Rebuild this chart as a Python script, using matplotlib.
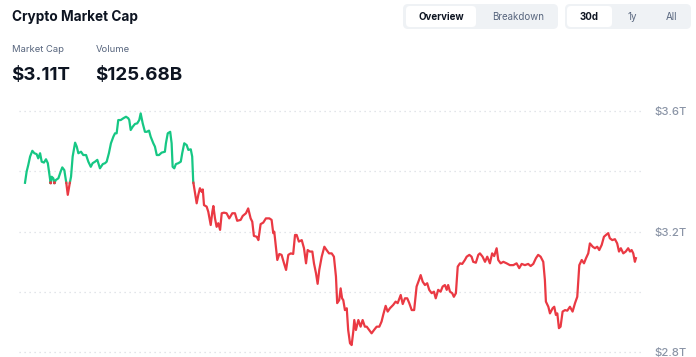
import numpy as np
import matplotlib
matplotlib.use("Agg")
import matplotlib.pyplot as plt
from matplotlib.patches import FancyBboxPatch

plt.rcParams['font.family'] = ['Inter', 'DejaVu Sans']

# market cap in trillions of USD, time in days over the 30d window
days = [0.00, 0.08, 0.16, 0.25, 0.36, 0.46, 0.57, 0.65, 0.74, 0.82, 0.93, 1.03, 1.12, 1.18, 1.26, 1.31,
        1.39, 1.44, 1.51, 1.64, 1.75, 1.83, 1.93, 2.01, 2.10, 2.18, 2.26, 2.34, 2.46, 2.54, 2.62, 2.75,
        2.86, 3.00, 3.11, 3.23, 3.32, 3.44, 3.55, 3.68, 3.82, 3.93, 4.01, 4.12, 4.22, 4.34, 4.42, 4.50,
        4.58, 4.70, 4.83, 4.96, 5.07, 5.12, 5.19, 5.29, 5.40, 5.51, 5.61, 5.68, 5.78, 5.89, 5.98, 6.09,
        6.17, 6.30, 6.38, 6.47, 6.58, 6.71, 6.87, 6.92, 7.01, 7.13, 7.20, 7.25, 7.33, 7.41, 7.53, 7.65,
        7.72, 7.82, 7.94, 8.02, 8.14, 8.21, 8.26, 8.35, 8.43, 8.51, 8.59, 8.68, 8.73, 8.79, 8.92, 9.00,
        9.12, 9.20, 9.25, 9.33, 9.41, 9.49, 9.58, 9.66, 9.77, 9.90, 10.03, 10.18, 10.31, 10.42, 10.59, 10.69,
        10.85, 10.96, 11.08, 11.16, 11.24, 11.38, 11.46, 11.57, 11.70, 11.83, 12.00, 12.11, 12.19, 12.24, 12.32, 12.39,
        12.49, 12.60, 12.72, 12.82, 12.93, 13.05, 13.17, 13.26, 13.34, 13.45, 13.59, 13.70, 13.80, 13.88, 13.99, 14.11,
        14.19, 14.29, 14.37, 14.45, 14.57, 14.70, 14.81, 14.93, 15.06, 15.17, 15.27, 15.33, 15.43, 15.50, 15.57, 15.63,
        15.71, 15.80, 15.87, 15.96, 16.04, 16.12, 16.17, 16.25, 16.37, 16.48, 16.58, 16.69, 16.78, 16.90, 17.02, 17.14,
        17.27, 17.40, 17.51, 17.59, 17.71, 17.81, 17.92, 18.08, 18.20, 18.30, 18.45, 18.55, 18.66, 18.77, 18.87, 18.99,
        19.11, 19.23, 19.35, 19.43, 19.53, 19.64, 19.75, 19.85, 19.97, 20.08, 20.17, 20.29, 20.41, 20.51, 20.62, 20.71,
        20.78, 20.87, 20.98, 21.06, 21.16, 21.25, 21.36, 21.47, 21.60, 21.69, 21.82, 21.93, 22.01, 22.14, 22.26, 22.34,
        22.47, 22.59, 22.70, 22.83, 22.94, 23.04, 23.16, 23.24, 23.36, 23.49, 23.65, 23.81, 23.98, 24.14, 24.27, 24.39,
        24.55, 24.71, 24.83, 24.96, 25.09, 25.20, 25.32, 25.45, 25.53, 25.58, 25.70, 25.78, 25.91, 25.99, 26.07, 26.14,
        26.22, 26.30, 26.40, 26.52, 26.63, 26.76, 26.89, 27.01, 27.12, 27.22, 27.34, 27.45, 27.55, 27.66, 27.74, 27.88,
        27.99, 28.10, 28.20, 28.32, 28.43, 28.53, 28.64, 28.72, 28.84, 28.97, 29.08, 29.17, 29.26, 29.38, 29.50, 29.62,
        29.71, 29.79, 29.87, 29.95, 30.00]
cap = [3.362, 3.399, 3.421, 3.449, 3.468, 3.460, 3.457, 3.443, 3.460, 3.432, 3.429, 3.440, 3.427, 3.399, 3.360, 3.382,
       3.377, 3.360, 3.371, 3.377, 3.399, 3.413, 3.404, 3.371, 3.322, 3.355, 3.382, 3.449, 3.495, 3.482, 3.460, 3.465,
       3.454, 3.454, 3.432, 3.415, 3.427, 3.432, 3.438, 3.410, 3.424, 3.427, 3.432, 3.460, 3.493, 3.515, 3.526, 3.526,
       3.570, 3.570, 3.576, 3.581, 3.576, 3.570, 3.537, 3.548, 3.557, 3.559, 3.570, 3.592, 3.559, 3.531, 3.531, 3.535,
       3.515, 3.493, 3.482, 3.454, 3.454, 3.462, 3.465, 3.493, 3.526, 3.531, 3.493, 3.415, 3.410, 3.424, 3.427, 3.432,
       3.460, 3.493, 3.487, 3.471, 3.473, 3.449, 3.366, 3.327, 3.294, 3.322, 3.344, 3.332, 3.340, 3.288, 3.283, 3.266,
       3.222, 3.266, 3.285, 3.244, 3.216, 3.228, 3.206, 3.261, 3.263, 3.261, 3.244, 3.261, 3.261, 3.236, 3.239, 3.252,
       3.261, 3.277, 3.244, 3.233, 3.186, 3.183, 3.172, 3.225, 3.230, 3.244, 3.244, 3.239, 3.195, 3.200, 3.150, 3.106,
       3.126, 3.123, 3.095, 3.073, 3.123, 3.128, 3.126, 3.189, 3.189, 3.167, 3.172, 3.145, 3.095, 3.139, 3.134, 3.134,
       3.095, 3.062, 3.027, 3.073, 3.117, 3.150, 3.139, 3.128, 3.128, 3.117, 3.051, 2.963, 2.973, 3.012, 2.979, 2.973,
       2.940, 2.946, 2.874, 2.830, 2.824, 2.868, 2.907, 2.874, 2.907, 2.885, 2.907, 2.885, 2.885, 2.874, 2.863, 2.874,
       2.885, 2.885, 2.902, 2.924, 2.954, 2.935, 2.946, 2.957, 2.968, 2.963, 2.990, 2.960, 2.979, 2.979, 2.963, 2.940,
       2.940, 3.018, 3.040, 3.056, 3.034, 3.023, 3.029, 3.007, 2.996, 3.001, 2.979, 3.007, 3.001, 3.018, 3.023, 3.007,
       3.023, 3.001, 2.996, 2.984, 2.996, 3.084, 3.095, 3.093, 3.106, 3.117, 3.123, 3.117, 3.100, 3.097, 3.123, 3.128,
       3.117, 3.100, 3.117, 3.095, 3.128, 3.119, 3.145, 3.106, 3.095, 3.100, 3.095, 3.089, 3.089, 3.095, 3.079, 3.093,
       3.089, 3.093, 3.086, 3.093, 3.112, 3.123, 3.117, 3.100, 3.040, 2.968, 2.951, 2.929, 2.946, 2.951, 2.924, 2.929,
       2.880, 2.885, 2.935, 2.940, 2.938, 2.951, 2.935, 2.963, 2.984, 3.089, 3.106, 3.095, 3.112, 3.128, 3.161, 3.150,
       3.145, 3.150, 3.139, 3.156, 3.183, 3.189, 3.195, 3.178, 3.172, 3.175, 3.161, 3.134, 3.145, 3.128, 3.134, 3.145,
       3.134, 3.139, 3.128, 3.100, 3.112]

grid_levels = [2.8, 3.0, 3.2, 3.4, 3.6]
labeled_levels = [2.8, 3.2, 3.6]
title = "Crypto Market Cap"
stat_names = ["Market Cap", "Volume"]
stat_values = ["$3.11T", "$125.68B"]
tabs1 = ["Overview", "Breakdown"]
tabs2 = ["30d", "1y", "All"]

GREEN = "#16c784"
RED = "#ea3943"
DARK = "#0d1421"
GREY = "#58667e"
TICK = "#8a94a6"

W, H = 696, 357
fig = plt.figure(figsize=(W / 100, H / 100), dpi=100)
fig.patch.set_facecolor("white")

# overlay in pixel coordinates for the header widgets
ov = fig.add_axes([0, 0, 1, 1], zorder=0)
ov.set_xlim(0, W)
ov.set_ylim(H, 0)
ov.axis("off")

ov.text(12, 17, title, fontsize=9.8, fontweight="bold", color=DARK, va="center", ha="left")
for xpos, name, val in zip([12, 96], stat_names, stat_values):
    ov.text(xpos, 49, name, fontsize=6.8, color=GREY, va="center", ha="left")
    ov.text(xpos - 1, 75, val, fontsize=13.5, fontweight="bold", color=DARK, va="center", ha="left")

def pill(x0, x1, y0, y1, color, r=5):
    ov.add_patch(FancyBboxPatch((x0 + r, y0 + r), x1 - x0 - 2 * r, y1 - y0 - 2 * r,
                                boxstyle="round,pad=%d" % r, fc=color, ec="none"))

pill(403, 558, 4, 29, "#eff2f5")
pill(406, 476, 6, 27, "white", r=4)
pill(565, 691, 4, 29, "#eff2f5")
pill(567, 612, 6, 27, "white", r=4)
for xc, lab, active in zip([441, 518], tabs1, [True, False]):
    ov.text(xc, 16.5, lab, fontsize=7, fontweight="bold" if active else "normal",
            color=DARK if active else GREY, ha="center", va="center")
for xc, lab, active in zip([589, 632, 671], tabs2, [True, False, False]):
    ov.text(xc, 16.5, lab, fontsize=7, fontweight="bold" if active else "normal",
            color=DARK if active else GREY, ha="center", va="center")

# chart axes
left, right, top = 19, 641, 105
ax = fig.add_axes([left / W, 0, (right - left) / W, (H - top) / H], zorder=1)
ax.patch.set_alpha(0)
px_per_T = (352.3 - 111) / 0.8
ax.set_ylim(2.8 - (H - 352.3) / px_per_T, 3.6 + (111 - top) / px_per_T)
ax.set_xlim(-0.295, 30.25)

for lv in grid_levels:
    ax.axhline(lv, color="#d9dde3", lw=0.9, ls=(0, (1, 3)), zorder=0)

x = np.array(days)
y = np.array(cap)
base = y[0]
# insert crossing points so colours switch exactly at the opening value
xs, ys = [x[0]], [y[0]]
for i in range(1, len(x)):
    a, b = y[i - 1] - base, y[i] - base
    if a * b < 0:
        t = a / (a - b)
        xs.append(x[i - 1] + t * (x[i] - x[i - 1]))
        ys.append(base)
    xs.append(x[i])
    ys.append(y[i])
xs, ys = np.array(xs), np.array(ys)
ax.plot(xs, np.where(ys >= base, ys, np.nan), color=GREEN, lw=1.6, solid_joinstyle="round")
ax.plot(xs, np.where(ys <= base, ys, np.nan), color=RED, lw=1.6, solid_joinstyle="round")

ax.set_yticks(labeled_levels)
ax.set_yticklabels(["$%.1fT" % v for v in labeled_levels])
ax.yaxis.tick_right()
ax.tick_params(axis="y", length=0, pad=10, labelsize=8.2, labelcolor=TICK)
for lab in ax.get_yticklabels():
    lab.set_fontweight("medium")
ax.set_xticks([])
for s in ax.spines.values():
    s.set_visible(False)

fig.savefig("out.png", dpi=100)
